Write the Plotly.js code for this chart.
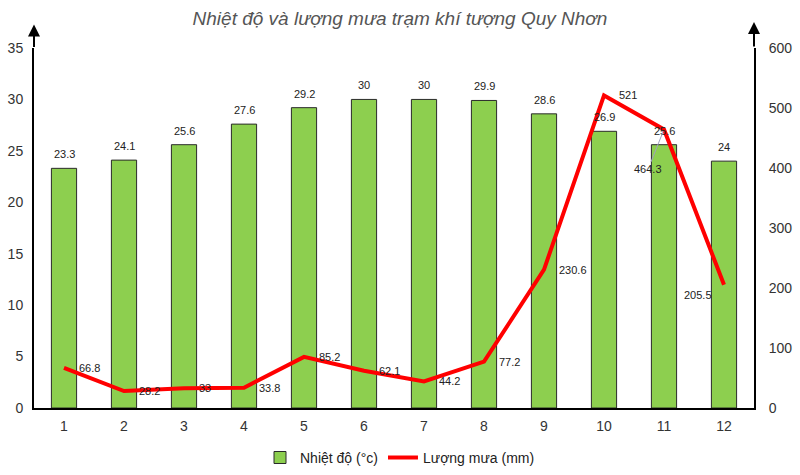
<!DOCTYPE html>
<html><head><meta charset="utf-8">
<script src="https://cdn.plot.ly/plotly-3.0.1.min.js"></script>
<style>body{margin:0;background:#fff}#c{width:800px;height:475px}</style>
</head><body><div id="c"></div>
<script>
const months = ['1','2','3','4','5','6','7','8','9','10','11','12'];
const temperature = [23.3, 24.1, 25.6, 27.6, 29.2, 30, 30, 29.9, 28.6, 26.9, 25.6, 24];
const rainfall = [66.8, 28.2, 33, 33.8, 85.2, 62.1, 44.2, 77.2, 230.6, 521, 464.3, 205.5];

// label placement style for the rainfall labels (pixel offsets)
const rainLabelStyle = rainfall.map((v, i) => {
  if (i === 10) return {xanchor:'center', yanchor:'middle', xshift:-16, yshift:-40, leader:true};
  if (i === 11) return {xanchor:'right', yanchor:'middle', xshift:-10, yshift:-10, leader:false};
  return {xanchor:'left', yanchor:'middle', xshift:13, yshift:0, leader:false};
});

const labelFont = {family:'Liberation Sans, Arial', size:11, color:'#222'};

const bars = {
  type:'bar', x:months, y:temperature, name:'Nhiệt độ (°c)',
  marker:{color:'#8DCF4F', line:{color:'#2a2a2a', width:1}},
  hoverinfo:'skip'
};
const line = {
  type:'scatter', mode:'lines', x:months, y:rainfall, yaxis:'y2', name:'Lượng mưa (mm)',
  line:{color:'#ff0000', width:4}, hoverinfo:'skip'
};

// category axis: annotations use the category index
const barAnnotations = temperature.map((v, i) => ({
  xref:'x', yref:'y', x:i, y:v, text:String(v), font:labelFont, showarrow:false,
  xanchor:'center', yanchor:'bottom', yshift:6
}));
const rainAnnotations = rainfall.map((v, i) => {
  const s = rainLabelStyle[i];
  if (s.leader) {
    return {xref:'x', yref:'y2', x:i, y:v, text:String(v), font:labelFont,
      showarrow:true, arrowhead:0, arrowwidth:1, arrowcolor:'#a0a0c0', ax:s.xshift, ay:-s.yshift, standoff:2};
  }
  return {xref:'x', yref:'y2', x:i, y:v, text:String(v), font:labelFont, showarrow:false,
    xanchor:s.xanchor, yanchor:s.yanchor, xshift:s.xshift, yshift:s.yshift};
});

const axFont = {family:'Liberation Sans, Arial', size:14, color:'#333'};
const layout = {
  width:800, height:475,
  margin:{l:34, r:46, t:48, b:67},
  paper_bgcolor:'#fff', plot_bgcolor:'#fff',
  title:{text:'<i>Nhiệt độ và lượng mưa trạm khí tượng Quy Nhơn</i>', x:0.5, xanchor:'center', y:0.962, yanchor:'middle',
    font:{family:'Liberation Sans, Arial', size:19, color:'#555'}},
  showlegend:true,
  legend:{orientation:'h', x:0.5, xanchor:'center', xref:'container', yref:'container', y:0.036, yanchor:'middle',
    font:{family:'Liberation Sans, Arial', size:14, color:'#222'}},
  bargap:0.58,
  xaxis:{type:'category', showgrid:false, zeroline:false, showline:true, linecolor:'#000', linewidth:2, ticks:'', tickfont:axFont, range:[-0.5,11.5], ticklabelstandoff:4},
  yaxis:{range:[0,35], dtick:5, showgrid:false, zeroline:false, showline:true, linecolor:'#000', linewidth:2, ticks:'', tickfont:axFont, ticklabelstandoff:6},
  yaxis2:{range:[0,600], dtick:100, overlaying:'y', side:'right', showgrid:false, zeroline:false, showline:true, linecolor:'#000', linewidth:2, ticks:'', tickfont:axFont, ticklabelstandoff:10},
  annotations:barAnnotations.concat(rainAnnotations, [
    {xref:'paper', yref:'paper', x:0, y:1.065, ax:0, ay:24, showarrow:true, arrowhead:2, arrowsize:1.2, arrowwidth:2, arrowcolor:'#000', text:''},
    {xref:'paper', yref:'paper', x:1, y:1.072, ax:0, ay:26, showarrow:true, arrowhead:2, arrowsize:1.2, arrowwidth:2, arrowcolor:'#000', text:''}
  ])
};
Plotly.newPlot('c', [bars, line], layout, {displayModeBar:false, staticPlot:true});
</script></body></html>
